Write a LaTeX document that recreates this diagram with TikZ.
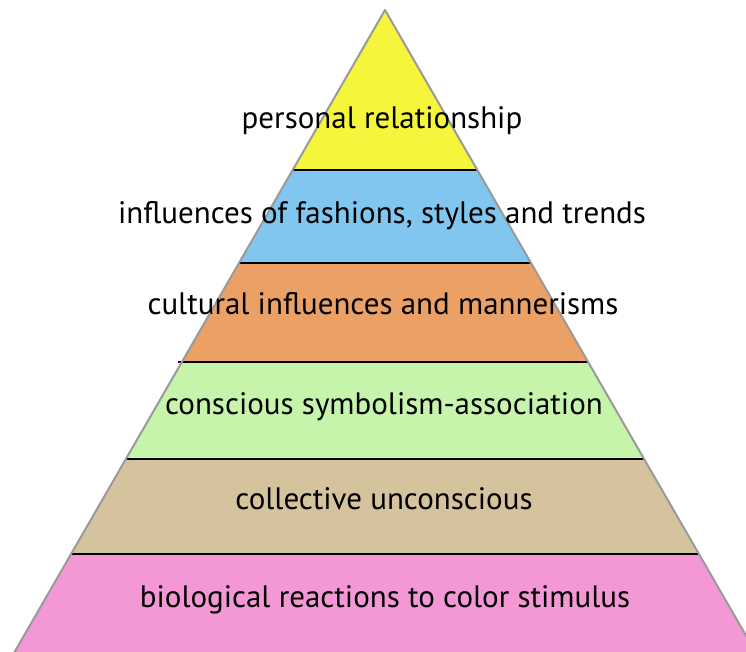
\documentclass[tikz,border=0pt]{standalone}
\usepackage{fontspec}
\setmainfont{PT Sans}
\definecolor{cyellow}{HTML}{F5F53C}
\definecolor{cblue}{HTML}{80C6EE}
\definecolor{corange}{HTML}{EBA066}
\definecolor{cgreen}{HTML}{C6F4AA}
\definecolor{ctan}{HTML}{D5C39E}
\definecolor{cpink}{HTML}{F398D5}
\definecolor{cedge}{HTML}{9A9A9A}
\begin{document}
\begin{tikzpicture}[x=1pt,y=-1pt,
  sep/.style={black,line width=2.8pt},
  edge/.style={cedge,line width=2pt,line join=round},
  lbl/.style={anchor=base,inner sep=0pt,font=\fontsize{31}{36}\selectfont,text=black}]
\useasboundingbox (0,0) rectangle (746,652);
\begin{scope}
\clip (0,0) rectangle (746,652);
\fill[cyellow] (385,10) -- (477.3,170) -- (292.7,170) -- cycle;
\fill[cblue] (292.7,170) -- (477.3,170) -- (531.0,263) -- (239.0,263) -- cycle;
\fill[corange] (239.0,263) -- (531.0,263) -- (588.1,362) -- (181.9,362) -- cycle;
\fill[cgreen] (181.9,362) -- (588.1,362) -- (644.1,459) -- (125.9,459) -- cycle;
\fill[ctan] (125.9,459) -- (644.1,459) -- (698.9,554) -- (71.1,554) -- cycle;
\fill[cpink] (71.1,554) -- (698.9,554) -- (760.1,660) -- (9.9,660) -- cycle;
\draw[sep] (292,170) -- (478,170);
\draw[sep] (238,263) -- (532,263);
\draw[sep] (178,362) -- (589,362);
\draw[sep] (125,459) -- (645,459);
\draw[sep] (70,554) -- (700,554);
\draw[edge] (9.9,660) -- (385,10) -- (760.1,660);
\end{scope}
\node[lbl] (l1) at (382,129) {personal relationship};
\node[lbl] (l2) at (382,223) {influences of fashions, styles and trends};
\node[lbl] (l3) at (383,314) {cultural influences and mannerisms};
\node[lbl] (l4) at (384,414) {conscious symbolism-association};
\node[lbl] (l5) at (384,509) {collective unconscious};
\node[lbl] (l6) at (385,607) {biological reactions to color stimulus};
\end{tikzpicture}
\end{document}
